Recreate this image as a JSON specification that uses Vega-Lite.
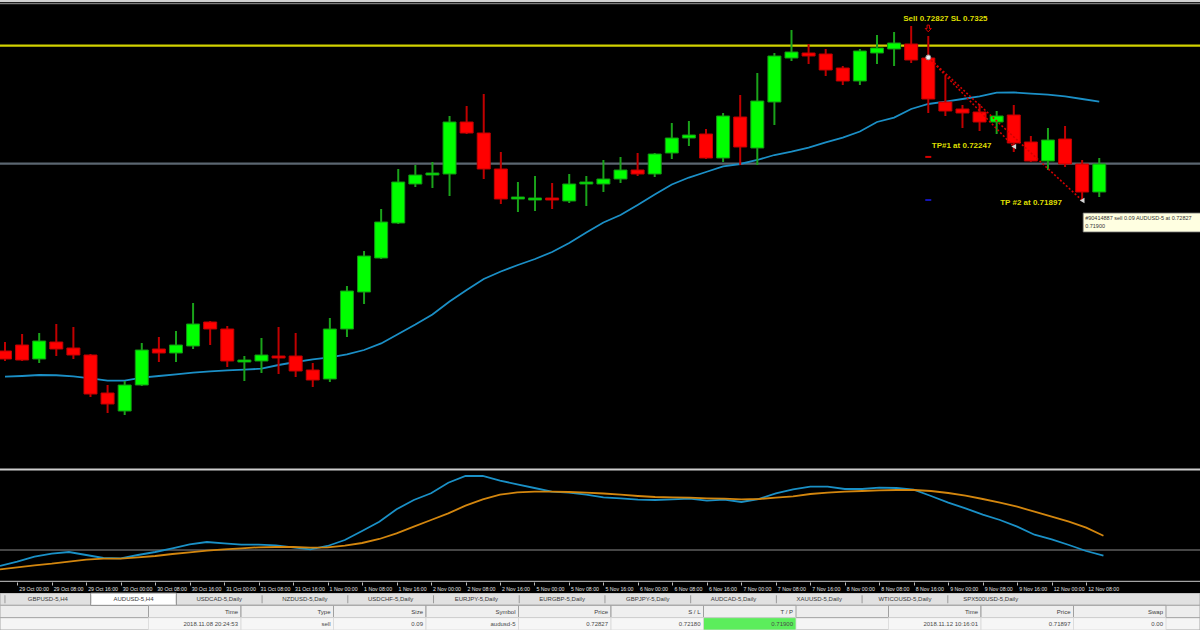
{
"$schema": "https://vega.github.io/schema/vega-lite/v6.json",
"background": "#000000",
"padding": 0,
"spacing": 0,
"config": {"view": {"stroke": null}, "concat": {"spacing": 0}, "font": "Liberation Sans"},
"datasets": {
"bars": [
{"i":0,"t":"26 Oct 20:00","o":0.709185,"h":0.70977,"l":0.708535,"c":0.708665,"ma":0.707515,"osc":-0.0016,"sig":-0.00193},
{"i":1,"t":"29 Oct 00:00","o":0.709575,"h":0.71029,"l":0.708535,"c":0.7086,"ma":0.70756,"osc":-0.00117,"sig":-0.00173},
{"i":2,"t":"29 Oct 04:00","o":0.708665,"h":0.710355,"l":0.708405,"c":0.709835,"ma":0.707625,"osc":-0.00067,"sig":-0.00153},
{"i":3,"t":"29 Oct 08:00","o":0.70977,"h":0.71094,"l":0.70886,"c":0.709315,"ma":0.70761,"osc":-0.00037,"sig":-0.00137},
{"i":4,"t":"29 Oct 12:00","o":0.70938,"h":0.710745,"l":0.708665,"c":0.708925,"ma":0.70753,"osc":-0.0002,"sig":-0.00117},
{"i":5,"t":"29 Oct 16:00","o":0.708925,"h":0.70899,"l":0.706195,"c":0.70639,"ma":0.7074,"osc":-0.0005,"sig":-0.00097},
{"i":6,"t":"29 Oct 20:00","o":0.706455,"h":0.706975,"l":0.705155,"c":0.70574,"ma":0.707255,"osc":-0.0008,"sig":-0.00087},
{"i":7,"t":"30 Oct 00:00","o":0.705285,"h":0.707235,"l":0.705025,"c":0.706975,"ma":0.707255,"osc":-0.00083,"sig":-0.00087},
{"i":8,"t":"30 Oct 04:00","o":0.706975,"h":0.709705,"l":0.70691,"c":0.70925,"ma":0.70745,"osc":-0.0005,"sig":-0.00073},
{"i":9,"t":"30 Oct 08:00","o":0.709315,"h":0.710095,"l":0.70847,"c":0.709055,"ma":0.70756,"osc":-0.0002,"sig":-0.0006},
{"i":10,"t":"30 Oct 12:00","o":0.709055,"h":0.710485,"l":0.70847,"c":0.709575,"ma":0.70766,"osc":0.00017,"sig":-0.0004},
{"i":11,"t":"30 Oct 16:00","o":0.70951,"h":0.712305,"l":0.709315,"c":0.71094,"ma":0.707775,"osc":0.00057,"sig":-0.00023},
{"i":12,"t":"30 Oct 20:00","o":0.71107,"h":0.711135,"l":0.709575,"c":0.710615,"ma":0.707855,"osc":0.0008,"sig":-0.00007},
{"i":13,"t":"31 Oct 00:00","o":0.710615,"h":0.71081,"l":0.708145,"c":0.708535,"ma":0.707925,"osc":0.00067,"sig":0.00007},
{"i":14,"t":"31 Oct 04:00","o":0.70847,"h":0.70886,"l":0.707235,"c":0.7086,"ma":0.707975,"osc":0.00053,"sig":0.00017},
{"i":15,"t":"31 Oct 08:00","o":0.708535,"h":0.71003,"l":0.707755,"c":0.708925,"ma":0.708035,"osc":0.00053,"sig":0.00027},
{"i":16,"t":"31 Oct 12:00","o":0.70886,"h":0.710745,"l":0.70769,"c":0.70873,"ma":0.708275,"osc":0.00047,"sig":0.0003},
{"i":17,"t":"31 Oct 16:00","o":0.70886,"h":0.710355,"l":0.707495,"c":0.707885,"ma":0.70847,"osc":0.00027,"sig":0.0003},
{"i":18,"t":"31 Oct 20:00","o":0.70795,"h":0.708405,"l":0.706845,"c":0.7073,"ma":0.708635,"osc":0.00007,"sig":0.00023},
{"i":19,"t":"1 Nov 00:00","o":0.707365,"h":0.71133,"l":0.70717,"c":0.710615,"ma":0.708765,"osc":0.0004,"sig":0.00027},
{"i":20,"t":"1 Nov 04:00","o":0.710615,"h":0.71341,"l":0.710095,"c":0.713085,"ma":0.70896,"osc":0.001,"sig":0.00043},
{"i":21,"t":"1 Nov 08:00","o":0.71302,"h":0.715685,"l":0.71224,"c":0.71536,"ma":0.70925,"osc":0.0019,"sig":0.0007},
{"i":22,"t":"1 Nov 12:00","o":0.71523,"h":0.718415,"l":0.715165,"c":0.71757,"ma":0.709675,"osc":0.00283,"sig":0.0011},
{"i":23,"t":"1 Nov 16:00","o":0.717505,"h":0.721015,"l":0.71744,"c":0.72017,"ma":0.71029,"osc":0.00407,"sig":0.00167},
{"i":24,"t":"1 Nov 20:00","o":0.72004,"h":0.721275,"l":0.719845,"c":0.720625,"ma":0.710905,"osc":0.005,"sig":0.00233},
{"i":25,"t":"2 Nov 00:00","o":0.720625,"h":0.72147,"l":0.71978,"c":0.720755,"ma":0.711555,"osc":0.00567,"sig":0.003},
{"i":26,"t":"2 Nov 04:00","o":0.72069,"h":0.72446,"l":0.71926,"c":0.72407,"ma":0.712405,"osc":0.00673,"sig":0.00367},
{"i":27,"t":"2 Nov 08:00","o":0.72407,"h":0.72511,"l":0.72329,"c":0.723355,"ma":0.71315,"osc":0.0074,"sig":0.00443},
{"i":28,"t":"2 Nov 12:00","o":0.723355,"h":0.72589,"l":0.720365,"c":0.721015,"ma":0.713865,"osc":0.0074,"sig":0.00507},
{"i":29,"t":"2 Nov 16:00","o":0.721015,"h":0.72212,"l":0.71874,"c":0.719065,"ma":0.714355,"osc":0.00693,"sig":0.00553},
{"i":30,"t":"2 Nov 20:00","o":0.719065,"h":0.72017,"l":0.71822,"c":0.719195,"ma":0.714775,"osc":0.00657,"sig":0.00577},
{"i":31,"t":"5 Nov 00:00","o":0.719,"h":0.72056,"l":0.718285,"c":0.71913,"ma":0.715165,"osc":0.0062,"sig":0.00583},
{"i":32,"t":"5 Nov 04:00","o":0.71913,"h":0.720105,"l":0.718415,"c":0.719,"ma":0.71562,"osc":0.00583,"sig":0.00583},
{"i":33,"t":"5 Nov 08:00","o":0.718935,"h":0.72069,"l":0.718805,"c":0.72004,"ma":0.716205,"osc":0.00573,"sig":0.0058},
{"i":34,"t":"5 Nov 12:00","o":0.72004,"h":0.72056,"l":0.71861,"c":0.72017,"ma":0.71689,"osc":0.00553,"sig":0.00573},
{"i":35,"t":"5 Nov 16:00","o":0.72004,"h":0.7216,"l":0.71952,"c":0.720365,"ma":0.71754,"osc":0.00527,"sig":0.00565},
{"i":36,"t":"5 Nov 20:00","o":0.720365,"h":0.721795,"l":0.720105,"c":0.72095,"ma":0.718025,"osc":0.00517,"sig":0.00553},
{"i":37,"t":"6 Nov 00:00","o":0.72095,"h":0.722055,"l":0.72056,"c":0.72069,"ma":0.718675,"osc":0.00503,"sig":0.0054},
{"i":38,"t":"6 Nov 04:00","o":0.72069,"h":0.722055,"l":0.720495,"c":0.72199,"ma":0.71936,"osc":0.005,"sig":0.0053},
{"i":39,"t":"6 Nov 08:00","o":0.722055,"h":0.724005,"l":0.721665,"c":0.72303,"ma":0.72001,"osc":0.00507,"sig":0.00527},
{"i":40,"t":"6 Nov 12:00","o":0.72303,"h":0.724135,"l":0.72251,"c":0.723225,"ma":0.72046,"osc":0.00513,"sig":0.00523},
{"i":41,"t":"6 Nov 16:00","o":0.72329,"h":0.723615,"l":0.721665,"c":0.72173,"ma":0.72082,"osc":0.00493,"sig":0.00517},
{"i":42,"t":"6 Nov 20:00","o":0.72173,"h":0.724655,"l":0.72147,"c":0.72446,"ma":0.72118,"osc":0.00503,"sig":0.00513},
{"i":43,"t":"7 Nov 00:00","o":0.724395,"h":0.725825,"l":0.721275,"c":0.722445,"ma":0.72134,"osc":0.0048,"sig":0.00507},
{"i":44,"t":"7 Nov 04:00","o":0.72238,"h":0.727255,"l":0.721275,"c":0.725435,"ma":0.7216,"osc":0.0051,"sig":0.0051},
{"i":45,"t":"7 Nov 08:00","o":0.72537,"h":0.728555,"l":0.723875,"c":0.72836,"ma":0.721925,"osc":0.00567,"sig":0.00523},
{"i":46,"t":"7 Nov 12:00","o":0.72823,"h":0.73005,"l":0.728035,"c":0.72862,"ma":0.72215,"osc":0.00607,"sig":0.00537},
{"i":47,"t":"7 Nov 16:00","o":0.728555,"h":0.72914,"l":0.72784,"c":0.72836,"ma":0.72241,"osc":0.00633,"sig":0.0056},
{"i":48,"t":"7 Nov 20:00","o":0.72849,"h":0.728815,"l":0.72706,"c":0.72745,"ma":0.72274,"osc":0.00633,"sig":0.00573},
{"i":49,"t":"8 Nov 00:00","o":0.72758,"h":0.72771,"l":0.726475,"c":0.726735,"ma":0.72306,"osc":0.0061,"sig":0.00583},
{"i":50,"t":"8 Nov 04:00","o":0.726735,"h":0.728815,"l":0.726475,"c":0.728685,"ma":0.72345,"osc":0.0061,"sig":0.0059},
{"i":51,"t":"8 Nov 08:00","o":0.728555,"h":0.729725,"l":0.72784,"c":0.72888,"ma":0.72407,"osc":0.00623,"sig":0.00597},
{"i":52,"t":"8 Nov 12:00","o":0.728815,"h":0.72992,"l":0.72771,"c":0.729205,"ma":0.72436,"osc":0.0062,"sig":0.006},
{"i":53,"t":"8 Nov 16:00","o":0.72914,"h":0.73031,"l":0.727905,"c":0.7281,"ma":0.724915,"osc":0.00603,"sig":0.006},
{"i":54,"t":"8 Nov 20:00","o":0.72823,"h":0.72966,"l":0.724655,"c":0.725565,"ma":0.72524,"osc":0.0054,"sig":0.0059},
{"i":55,"t":"9 Nov 00:00","o":0.72537,"h":0.72706,"l":0.72446,"c":0.724785,"ma":0.7254,"osc":0.00473,"sig":0.0057},
{"i":56,"t":"9 Nov 04:00","o":0.724915,"h":0.725175,"l":0.72368,"c":0.724655,"ma":0.725565,"osc":0.00417,"sig":0.00543},
{"i":57,"t":"9 Nov 08:00","o":0.72472,"h":0.72524,"l":0.723485,"c":0.72407,"ma":0.72573,"osc":0.00353,"sig":0.0051},
{"i":58,"t":"9 Nov 12:00","o":0.72407,"h":0.724785,"l":0.72329,"c":0.72446,"ma":0.725975,"osc":0.003,"sig":0.00473},
{"i":59,"t":"9 Nov 16:00","o":0.724525,"h":0.725175,"l":0.72212,"c":0.722705,"ma":0.72599,"osc":0.00233,"sig":0.00433},
{"i":60,"t":"9 Nov 20:00","o":0.72277,"h":0.72316,"l":0.72147,"c":0.721535,"ma":0.72592,"osc":0.00153,"sig":0.00383},
{"i":61,"t":"12 Nov 00:00","o":0.721535,"h":0.72368,"l":0.72095,"c":0.7229,"ma":0.725855,"osc":0.00107,"sig":0.00333},
{"i":62,"t":"12 Nov 04:00","o":0.722965,"h":0.72381,"l":0.721145,"c":0.72134,"ma":0.72573,"osc":0.0005,"sig":0.00283},
{"i":63,"t":"12 Nov 08:00","o":0.72134,"h":0.7216,"l":0.719,"c":0.71952,"ma":0.725565,"osc":-0.0001,"sig":0.00223},
{"i":64,"t":"12 Nov 12:00","o":0.71952,"h":0.72173,"l":0.719195,"c":0.72134,"ma":0.72539,"osc":-0.00057,"sig":0.00143}
],
"levels": [{"name":"resistance","price":0.72904},{"name":"support","price":0.72137}],
"legs": [
{"leg":"partial","i":54,"price":0.72827},{"leg":"partial","i":59,"price":0.72247},
{"leg":"final","i":54,"price":0.72827},{"leg":"final","i":63,"price":0.71897}
],
"orders": [{"i":54,"kind":"sl","price":0.7218},{"i":54,"kind":"tp","price":0.719}],
"entries": [{"i":54,"price":0.72827}],
"exits": [{"i":59,"price":0.72247},{"i":63,"price":0.71897}],
"signals": [{"i":54,"price":0.73015}],
"notes_c": [{"i":55,"price":0.730765,"label":"Sell 0.72827 SL 0.7325"}],
"notes_l": [{"i":54,"price":0.72253,"label":"TP#1 at 0.72247"},{"i":58,"price":0.71879,"label":"TP #2 at 0.71897"}],
"tip_box": [{"i":63,"top":0.718155,"bottom":0.71692}],
"tip_lines": [{"i":63,"price":0.71786,"text":"#90414887 sell 0.09 AUDUSD-5 at 0.72827"},{"i":63,"price":0.71731,"text":"0.71900"}],
"tabs": [
{"tab":"GBPUSD-5,H4","active":false},{"tab":"AUDUSD-5,H4","active":true},{"tab":"USDCAD-5,Daily","active":false},{"tab":"NZDUSD-5,Daily","active":false},
{"tab":"USDCHF-5,Daily","active":false},{"tab":"EURJPY-5,Daily","active":false},{"tab":"EURGBP-5,Daily","active":false},{"tab":"GBPJPY-5,Daily","active":false},
{"tab":"AUDCAD-5,Daily","active":false},{"tab":"XAUUSD-5,Daily","active":false},{"tab":"WTICOUSD-5,Daily","active":false},{"tab":"SPX500USD-5,Daily","active":false}
],
"cols": [
{"col":"open_time","header":"Time","value":"2018.11.08 20:24:53"},
{"col":"type","header":"Type","value":"sell"},
{"col":"size","header":"Size","value":"0.09"},
{"col":"symbol","header":"Symbol","value":"audusd-5"},
{"col":"open_price","header":"Price","value":"0.72827"},
{"col":"sl","header":"S / L","value":"0.72180"},
{"col":"tp","header":"T / P","value":"0.71900"},
{"col":"close_time","header":"Time","value":"2018.11.12 10:16:01"},
{"col":"close_price","header":"Price","value":"0.71897"},
{"col":"swap","header":"Swap","value":"0.00"}
]
},
"vconcat": [
{
"width": 1200, "height": 471,
"layer": [
{"data": {"values": [{}]}, "mark": {"type": "rule", "color": "#d2d2d2", "strokeWidth": 2, "clip": true}, "encoding": {"y": {"datum": 0.73194, "type": "quantitative", "scale": {"domain": [0.701385, 0.732], "nice": false, "zero": false}, "axis": null}}},
{"data": {"values": [{}]}, "mark": {"type": "rule", "color": "#7d7d7d", "strokeWidth": 1.5, "clip": true}, "encoding": {"y": {"datum": 0.73177, "type": "quantitative", "scale": {"domain": [0.701385, 0.732], "nice": false, "zero": false}, "axis": null}}},
{"data": {"values": [{}]}, "mark": {"type": "rule", "color": "#cdcdcd", "strokeWidth": 2, "clip": true}, "encoding": {"y": {"datum": 0.70148, "type": "quantitative", "scale": {"domain": [0.701385, 0.732], "nice": false, "zero": false}, "axis": null}}},
{"data": {"name": "levels"}, "mark": {"type": "rule", "strokeWidth": 2.2, "clip": true}, "encoding": {"y": {"field": "price", "type": "quantitative", "scale": {"domain": [0.701385, 0.732], "nice": false, "zero": false}, "axis": null}, "color": {"field": "name", "type": "nominal", "scale": {"domain": ["resistance", "support"], "range": ["#d2d200", "#5b6670"]}, "legend": null}}},
{"data": {"name": "bars"},
 "encoding": {"x": {"field": "i", "type": "quantitative", "scale": {"domain": [0, 69.6], "nice": false, "zero": false}, "axis": null}},
 "layer": [
  {"mark": {"type": "line", "color": "#1b8fc6", "strokeWidth": 1.8, "clip": true}, "encoding": {"y": {"field": "ma", "type": "quantitative", "scale": {"domain": [0.701385, 0.732], "nice": false, "zero": false}, "axis": null}}},
  {"mark": {"type": "rule", "strokeWidth": 2, "clip": true}, "encoding": {"y": {"field": "h", "type": "quantitative", "scale": {"domain": [0.701385, 0.732], "nice": false, "zero": false}, "axis": null}, "y2": {"field": "l"}, "color": {"condition": {"test": "datum.c >= datum.o", "value": "#1aa31a"}, "value": "#c00000"}}},
  {"mark": {"type": "bar", "size": 13, "strokeWidth": 1, "clip": true}, "encoding": {"y": {"field": "o", "type": "quantitative", "scale": {"domain": [0.701385, 0.732], "nice": false, "zero": false}, "axis": null}, "y2": {"field": "c"}, "fill": {"condition": {"test": "datum.c >= datum.o", "value": "#00ff00"}, "value": "#ff0000"}, "stroke": {"condition": {"test": "datum.c >= datum.o", "value": "#149414"}, "value": "#c00000"}}}
 ]
},
{"data": {"name": "legs"},
 "mark": {"type": "line", "color": "#d40000", "strokeWidth": 1.6, "strokeDash": [2, 2]},
 "encoding": {"x": {"field": "i", "type": "quantitative", "scale": {"domain": [0, 69.6], "nice": false, "zero": false}, "axis": null},
  "y": {"field": "price", "type": "quantitative", "scale": {"domain": [0.701385, 0.732], "nice": false, "zero": false}, "axis": null},
  "detail": {"field": "leg", "type": "nominal"}}
},
{"data": {"name": "orders"},
 "mark": {"type": "tick", "orient": "horizontal", "size": 6, "thickness": 2, "opacity": 1},
 "encoding": {"x": {"field": "i", "type": "quantitative", "scale": {"domain": [0, 69.6], "nice": false, "zero": false}, "axis": null},
  "y": {"field": "price", "type": "quantitative", "scale": {"domain": [0.701385, 0.732], "nice": false, "zero": false}, "axis": null},
  "color": {"condition": {"test": "datum.kind === 'sl'", "value": "#d40000"}, "value": "#1414b4"}}
},
{"data": {"name": "entries"},
 "mark": {"type": "point", "shape": "circle", "filled": true, "fill": "#f0f0f0", "stroke": "#9a9a9a", "strokeWidth": 1, "size": 24, "opacity": 1},
 "encoding": {"x": {"field": "i", "type": "quantitative", "scale": {"domain": [0, 69.6], "nice": false, "zero": false}, "axis": null},
  "y": {"field": "price", "type": "quantitative", "scale": {"domain": [0.701385, 0.732], "nice": false, "zero": false}, "axis": null}}
},
{"data": {"name": "exits"},
 "mark": {"type": "point", "shape": "triangle-left", "filled": true, "color": "#d6d6d6", "size": 30, "opacity": 1},
 "encoding": {"x": {"field": "i", "type": "quantitative", "scale": {"domain": [0, 69.6], "nice": false, "zero": false}, "axis": null},
  "y": {"field": "price", "type": "quantitative", "scale": {"domain": [0.701385, 0.732], "nice": false, "zero": false}, "axis": null}}
},
{"data": {"name": "signals"},
 "mark": {"type": "point", "shape": "M -0.35 -1 L 0.35 -1 L 0.35 0 L 0.9 0 L 0 1 L -0.9 0 L -0.35 0 Z", "filled": false, "stroke": "#e00000", "strokeWidth": 1, "size": 45, "opacity": 1},
 "encoding": {"x": {"field": "i", "type": "quantitative", "scale": {"domain": [0, 69.6], "nice": false, "zero": false}, "axis": null},
  "y": {"field": "price", "type": "quantitative", "scale": {"domain": [0.701385, 0.732], "nice": false, "zero": false}, "axis": null}}
},
{"data": {"name": "notes_c"},
 "mark": {"type": "text", "align": "center", "baseline": "middle", "fontWeight": "bold", "fontSize": 8, "color": "#dede00"},
 "encoding": {"x": {"field": "i", "type": "quantitative", "scale": {"domain": [0, 69.6], "nice": false, "zero": false}, "axis": null},
  "y": {"field": "price", "type": "quantitative", "scale": {"domain": [0.701385, 0.732], "nice": false, "zero": false}, "axis": null},
  "text": {"field": "label", "type": "nominal"}}
},
{"data": {"name": "notes_l"},
 "mark": {"type": "text", "align": "left", "baseline": "middle", "fontWeight": "bold", "fontSize": 8, "color": "#dede00", "dx": 3.5},
 "encoding": {"x": {"field": "i", "type": "quantitative", "scale": {"domain": [0, 69.6], "nice": false, "zero": false}, "axis": null},
  "y": {"field": "price", "type": "quantitative", "scale": {"domain": [0.701385, 0.732], "nice": false, "zero": false}, "axis": null},
  "text": {"field": "label", "type": "nominal"}}
},
{"data": {"name": "tip_box"},
 "mark": {"type": "bar", "size": 118, "xOffset": 60, "fill": "#ffffe1", "stroke": "#707070", "strokeWidth": 0.8, "clip": true},
 "encoding": {"x": {"field": "i", "type": "quantitative", "scale": {"domain": [0, 69.6], "nice": false, "zero": false}, "axis": null},
  "y": {"field": "top", "type": "quantitative", "scale": {"domain": [0.701385, 0.732], "nice": false, "zero": false}, "axis": null},
  "y2": {"field": "bottom"}}
},
{"data": {"name": "tip_lines"},
 "mark": {"type": "text", "align": "left", "baseline": "middle", "fontSize": 5.5, "color": "#333333", "dx": 3, "clip": true},
 "encoding": {"x": {"field": "i", "type": "quantitative", "scale": {"domain": [0, 69.6], "nice": false, "zero": false}, "axis": null},
  "y": {"field": "price", "type": "quantitative", "scale": {"domain": [0.701385, 0.732], "nice": false, "zero": false}, "axis": null},
  "text": {"field": "text", "type": "nominal"}}
}
]
},
{
"width": 1200, "height": 111,
"layer": [
{"data": {"values": [{}]}, "mark": {"type": "rule", "color": "#8c8c8c", "strokeWidth": 1, "clip": true}, "encoding": {"y": {"datum": 0, "type": "quantitative", "scale": {"domain": [-0.0032, 0.0079], "nice": false, "zero": false}, "axis": null}}},
{"data": {"values": [{}]}, "mark": {"type": "rule", "color": "#a4a4a4", "strokeWidth": 1.5, "clip": true}, "encoding": {"y": {"datum": -0.00315, "type": "quantitative", "scale": {"domain": [-0.0032, 0.0079], "nice": false, "zero": false}, "axis": null}}},
{"data": {"name": "bars"},
 "encoding": {"x": {"field": "i", "type": "quantitative", "scale": {"domain": [0, 69.6], "nice": false, "zero": false},
  "axis": {"values": [1,3,5,7,9,11,13,15,17,19,21,23,25,27,29,31,33,35,37,39,41,43,45,47,49,51,53,55,57,59,61,63],
   "labelExpr": "['26 Oct 20:00','29 Oct 00:00','29 Oct 04:00','29 Oct 08:00','29 Oct 12:00','29 Oct 16:00','29 Oct 20:00','30 Oct 00:00','30 Oct 04:00','30 Oct 08:00','30 Oct 12:00','30 Oct 16:00','30 Oct 20:00','31 Oct 00:00','31 Oct 04:00','31 Oct 08:00','31 Oct 12:00','31 Oct 16:00','31 Oct 20:00','1 Nov 00:00','1 Nov 04:00','1 Nov 08:00','1 Nov 12:00','1 Nov 16:00','1 Nov 20:00','2 Nov 00:00','2 Nov 04:00','2 Nov 08:00','2 Nov 12:00','2 Nov 16:00','2 Nov 20:00','5 Nov 00:00','5 Nov 04:00','5 Nov 08:00','5 Nov 12:00','5 Nov 16:00','5 Nov 20:00','6 Nov 00:00','6 Nov 04:00','6 Nov 08:00','6 Nov 12:00','6 Nov 16:00','6 Nov 20:00','7 Nov 00:00','7 Nov 04:00','7 Nov 08:00','7 Nov 12:00','7 Nov 16:00','7 Nov 20:00','8 Nov 00:00','8 Nov 04:00','8 Nov 08:00','8 Nov 12:00','8 Nov 16:00','8 Nov 20:00','9 Nov 00:00','9 Nov 04:00','9 Nov 08:00','9 Nov 12:00','9 Nov 16:00','9 Nov 20:00','12 Nov 00:00','12 Nov 04:00','12 Nov 08:00','12 Nov 12:00'][datum.value]",
   "title": null, "grid": false, "domain": false, "labelAngle": 0, "labelAlign": "left", "labelBaseline": "top", "labelPadding": 1.5, "labelOffset": 1.5, "labelFontSize": 5.2, "labelColor": "#e4e4e4", "labelOverlap": false, "labelBound": false, "labelFlush": false, "tickSize": 3, "tickColor": "#bcbcbc", "tickWidth": 1}}},
 "layer": [
  {"mark": {"type": "line", "color": "#1a90c6", "strokeWidth": 1.8, "clip": true}, "encoding": {"y": {"field": "osc", "type": "quantitative", "scale": {"domain": [-0.0032, 0.0079], "nice": false, "zero": false}, "axis": null}}},
  {"mark": {"type": "line", "color": "#d3860e", "strokeWidth": 1.8, "clip": true}, "encoding": {"y": {"field": "sig", "type": "quantitative", "scale": {"domain": [-0.0032, 0.0079], "nice": false, "zero": false}, "axis": null}}}
 ]
}
]
},
{
"width": 1200, "height": 37,
"view": {"fill": "#e0e0e0", "stroke": null},
"resolve": {"scale": {"x": "independent"}},
"layer": [
{"data": {"values": [{"row": "tabs"}, {"row": "header"}, {"row": "row"}]},
 "mark": {"type": "rect", "stroke": "#a8a8a8", "strokeWidth": 1, "clip": true},
 "encoding": {"y": {"field": "row", "type": "nominal", "scale": {"type": "band", "domain": ["tabs", "header", "row"], "paddingInner": 0, "paddingOuter": 0, "round": false}, "axis": null},
  "fill": {"condition": [{"test": "datum.row === 'tabs'", "value": "#e1e1e1"}, {"test": "datum.row === 'header'", "value": "#ededed"}], "value": "#f5f5f5"}}},
{"data": {"name": "tabs"},
 "encoding": {"x": {"field": "tab", "type": "nominal", "scale": {"type": "band", "domain": ["GBPUSD-5,H4","AUDUSD-5,H4","USDCAD-5,Daily","NZDUSD-5,Daily","USDCHF-5,Daily","EURJPY-5,Daily","EURGBP-5,Daily","GBPJPY-5,Daily","AUDCAD-5,Daily","XAUUSD-5,Daily","WTICOUSD-5,Daily","SPX500USD-5,Daily"], "paddingInner": 0, "paddingOuter": 5.163, "align": 0.02883, "round": false}, "axis": null},
  "y": {"datum": "tabs", "type": "nominal", "scale": {"type": "band", "domain": ["tabs", "header", "row"], "paddingInner": 0, "paddingOuter": 0, "round": false}, "axis": null}},
 "layer": [
  {"transform": [{"filter": "datum.active"}], "mark": {"type": "rect", "fill": "#ffffff", "stroke": "#8c8c8c", "strokeWidth": 1}},
  {"mark": {"type": "tick", "orient": "vertical", "size": 8, "thickness": 1, "color": "#9a9a9a", "opacity": 1}, "encoding": {"x": {"field": "tab", "type": "nominal", "bandPosition": 0, "scale": {"type": "band", "domain": ["GBPUSD-5,H4","AUDUSD-5,H4","USDCAD-5,Daily","NZDUSD-5,Daily","USDCHF-5,Daily","EURJPY-5,Daily","EURGBP-5,Daily","GBPJPY-5,Daily","AUDCAD-5,Daily","XAUUSD-5,Daily","WTICOUSD-5,Daily","SPX500USD-5,Daily"], "paddingInner": 0, "paddingOuter": 5.163, "align": 0.02883, "round": false}, "axis": null}}},
  {"mark": {"type": "text", "fontSize": 6, "color": "#3a3a3a", "baseline": "middle", "align": "center"}, "encoding": {"text": {"field": "tab", "type": "nominal"}}}
 ]
},
{"data": {"name": "cols"},
 "encoding": {"x": {"field": "col", "type": "nominal", "scale": {"type": "band", "domain": ["open_time","type","size","symbol","open_price","sl","tp","gap","close_time","close_price","swap"], "paddingInner": 0, "paddingOuter": 0.9865, "align": 0.8137, "round": false}, "axis": null}},
 "layer": [
  {"mark": {"type": "rect", "fill": "#efefef", "stroke": "#a0a0a0", "strokeWidth": 1}, "encoding": {"y": {"datum": "header", "type": "nominal", "scale": {"type": "band", "domain": ["tabs", "header", "row"], "paddingInner": 0, "paddingOuter": 0, "round": false}, "axis": null}}},
  {"mark": {"type": "rect", "stroke": "#d8d8d8", "strokeWidth": 0.8}, "encoding": {"y": {"datum": "row", "type": "nominal", "scale": {"type": "band", "domain": ["tabs", "header", "row"], "paddingInner": 0, "paddingOuter": 0, "round": false}, "axis": null}, "fill": {"condition": {"test": "datum.col === 'tp'", "value": "#5ced5c"}, "value": "#f6f6f6"}}},
  {"mark": {"type": "text", "align": "right", "dx": -3, "fontSize": 6, "color": "#3c3c3c", "baseline": "middle"}, "encoding": {"x": {"field": "col", "type": "nominal", "bandPosition": 1, "scale": {"type": "band", "domain": ["open_time","type","size","symbol","open_price","sl","tp","gap","close_time","close_price","swap"], "paddingInner": 0, "paddingOuter": 0.9865, "align": 0.8137, "round": false}, "axis": null}, "y": {"datum": "header", "type": "nominal", "scale": {"type": "band", "domain": ["tabs", "header", "row"], "paddingInner": 0, "paddingOuter": 0, "round": false}, "axis": null}, "text": {"field": "header", "type": "nominal"}}},
  {"mark": {"type": "text", "align": "right", "dx": -3, "fontSize": 6, "color": "#4a4a4a", "baseline": "middle"}, "encoding": {"x": {"field": "col", "type": "nominal", "bandPosition": 1, "scale": {"type": "band", "domain": ["open_time","type","size","symbol","open_price","sl","tp","gap","close_time","close_price","swap"], "paddingInner": 0, "paddingOuter": 0.9865, "align": 0.8137, "round": false}, "axis": null}, "y": {"datum": "row", "type": "nominal", "scale": {"type": "band", "domain": ["tabs", "header", "row"], "paddingInner": 0, "paddingOuter": 0, "round": false}, "axis": null}, "text": {"field": "value", "type": "nominal"}}}
 ]
}
]
}
]
}
